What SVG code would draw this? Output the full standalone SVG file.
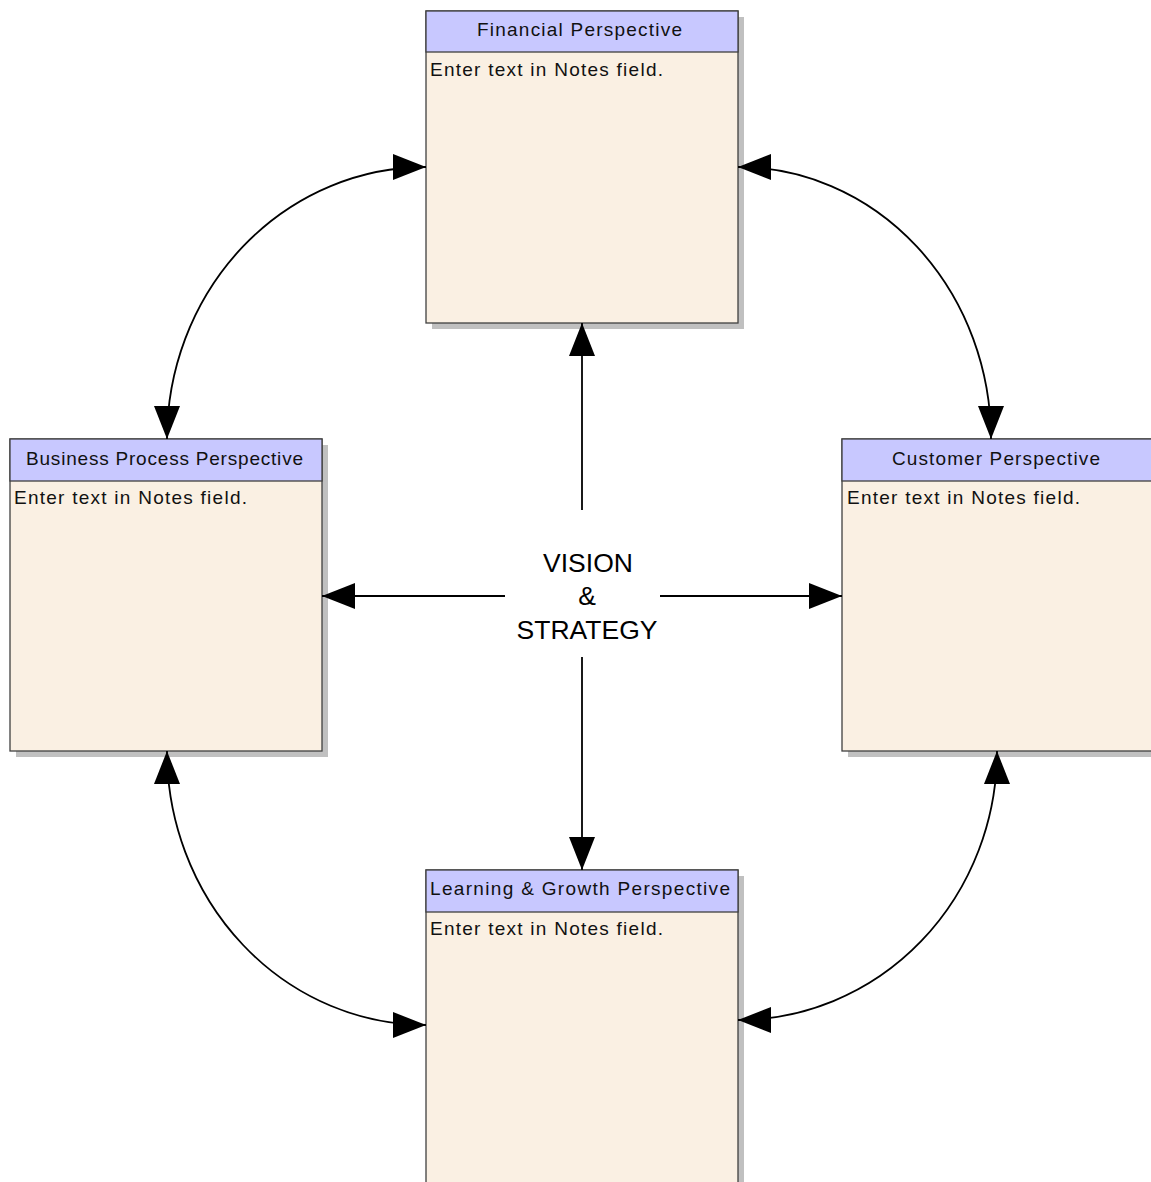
<svg xmlns="http://www.w3.org/2000/svg" width="1151" height="1182" viewBox="0 0 1151 1182">
<style>
.shadow{fill:#c0c0c0}
.body{fill:#faf0e3;stroke:#404040;stroke-width:1.3}
.head{fill:#c8c8ff;stroke:#404040;stroke-width:1.3}
.ht{font-family:"Liberation Sans",Arial,sans-serif;font-size:19px;fill:#111}
.bt{font-family:"Liberation Sans",Arial,sans-serif;font-size:19px;fill:#111}
.ct{font-family:"Liberation Sans",Arial,sans-serif;font-size:26.5px;fill:#000;text-anchor:middle}
.conn{fill:none;stroke:#000;stroke-width:1.8}
</style>
<defs>
<marker id="ah" markerUnits="userSpaceOnUse" markerWidth="34" markerHeight="28" refX="33" refY="13" orient="auto-start-reverse" viewBox="0 0 34 26">
<path d="M0,0 L33,13 L0,26 Z" fill="#000"/>
</marker>
</defs>
<rect width="1151" height="1182" fill="#fff"/>

<g id="financial">
<rect class="shadow" x="432" y="17" width="312" height="312"/>
<rect class="body" x="426" y="11" width="312" height="312"/>
<rect class="head" x="426" y="11" width="312" height="41"/>
<text class="ht" x="477" y="36" textLength="205" lengthAdjust="spacing">Financial Perspective</text>
<text class="bt" x="430" y="76" textLength="233" lengthAdjust="spacing">Enter text in Notes field.</text>
</g>

<g id="business">
<rect class="shadow" x="16" y="445" width="312" height="312"/>
<rect class="body" x="10" y="439" width="312" height="312"/>
<rect class="head" x="10" y="439" width="312" height="42"/>
<text class="ht" x="26" y="465" textLength="277" lengthAdjust="spacing">Business Process Perspective</text>
<text class="bt" x="14" y="504" textLength="233" lengthAdjust="spacing">Enter text in Notes field.</text>
</g>

<g id="customer">
<rect class="shadow" x="848" y="445" width="312" height="312"/>
<rect class="body" x="842" y="439" width="312" height="312"/>
<rect class="head" x="842" y="439" width="312" height="42"/>
<text class="ht" x="892" y="465" textLength="208" lengthAdjust="spacing">Customer Perspective</text>
<text class="bt" x="847" y="504" textLength="233" lengthAdjust="spacing">Enter text in Notes field.</text>
</g>

<g id="learning">
<rect class="shadow" x="432" y="876" width="312" height="320"/>
<rect class="body" x="426" y="870" width="312" height="320"/>
<rect class="head" x="426" y="870" width="312" height="42"/>
<text class="ht" x="430" y="895" textLength="300" lengthAdjust="spacing">Learning &amp; Growth Perspective</text>
<text class="bt" x="430" y="935" textLength="233" lengthAdjust="spacing">Enter text in Notes field.</text>
</g>

<g id="center">
<text class="ct" x="588" y="572">VISION</text>
<text class="ct" x="587" y="605">&amp;</text>
<text class="ct" x="587" y="639">STRATEGY</text>
</g>

<g id="connectors">
<path class="conn" d="M582,510 L582,323" marker-end="url(#ah)"/>
<path class="conn" d="M582,657 L582,870" marker-end="url(#ah)"/>
<path class="conn" d="M505,596 L322,596" marker-end="url(#ah)"/>
<path class="conn" d="M660,596 L842,596" marker-end="url(#ah)"/>
<path class="conn" d="M426,167 A259,272 0 0 0 167,439" marker-start="url(#ah)" marker-end="url(#ah)"/>
<path class="conn" d="M738,167 A253,272 0 0 1 991,439" marker-start="url(#ah)" marker-end="url(#ah)"/>
<path class="conn" d="M167,751 A259,274 0 0 0 426,1025" marker-start="url(#ah)" marker-end="url(#ah)"/>
<path class="conn" d="M997,751 A259,269 0 0 1 738,1020" marker-start="url(#ah)" marker-end="url(#ah)"/>
</g>
</svg>
